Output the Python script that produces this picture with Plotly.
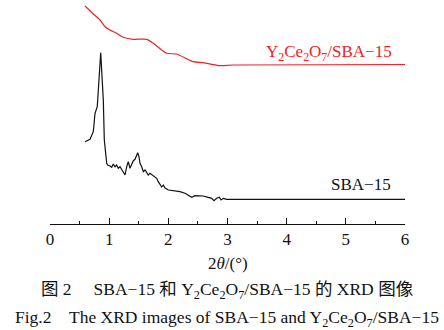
import plotly.graph_objects as go

# SBA-15 (black) : 2theta (deg) and relative intensity
sba_x = [0.592, 0.676, 0.732, 0.761, 0.799, 0.857, 0.901, 0.918, 0.958, 0.975, 1.014, 1.043,
         1.070, 1.099, 1.127, 1.154, 1.183, 1.212, 1.239, 1.268, 1.296, 1.323, 1.352, 1.381,
         1.408, 1.437, 1.465, 1.482, 1.504, 1.521, 1.550, 1.577, 1.606, 1.634, 1.661, 1.690,
         1.746, 1.803, 1.830, 1.859, 1.888, 1.915, 1.944, 2.001, 2.197, 2.282, 2.366, 2.395,
         2.451, 2.591, 2.675, 2.733, 2.772, 2.817, 2.861, 2.890, 2.929, 2.986, 6.0]
sba_y = [82.3, 84.7, 92.3, 110.7, 117.3, 171.3, 124.0, 84.0, 60.7, 59.0, 58.0, 56.7,
         60.0, 57.3, 59.0, 55.7, 57.3, 54.0, 52.3, 49.0, 57.3, 62.3, 55.7, 59.0,
         63.3, 64.7, 69.0, 71.3, 67.3, 60.7, 57.3, 52.3, 54.0, 50.7, 49.0, 50.7,
         48.0, 45.7, 42.3, 40.0, 37.0, 39.0, 36.0, 34.0, 32.3, 30.7, 28.0, 26.7,
         28.3, 28.0, 26.7, 25.7, 23.3, 25.7, 26.7, 24.0, 25.7, 24.7, 24.7]

# Y2Ce2O7/SBA-15 (red)
yce_x = [0.592, 0.732, 0.845, 0.930, 1.014, 1.127, 1.239, 1.408, 1.634, 1.746, 1.972,
         2.141, 2.422, 2.591, 2.873, 3.098, 6.0]
yce_y = [218.0, 210.0, 204.0, 197.3, 194.0, 190.7, 186.7, 184.7, 184.7, 180.7, 170.7,
         170.0, 162.3, 161.3, 158.3, 159.0, 159.5]

x_ticks = [0, 1, 2, 3, 4, 5, 6]
x_labels = ["0", "1", "2", "3", "4", "5", "6"]

label_red = "Y<sub>2</sub>Ce<sub>2</sub>O<sub>7</sub>/SBA\u221215"
label_black = "SBA\u221215"
x_title = "2<i>\u03b8</i>/(\u00b0)"
caption_cn = "图 2\u3000 SBA\u221215 和 Y<sub>2</sub>Ce<sub>2</sub>O<sub>7</sub>/SBA\u221215 的 XRD 图像"
caption_en = "Fig.2\u3000The XRD images of SBA\u221215 and Y<sub>2</sub>Ce<sub>2</sub>O<sub>7</sub>/SBA\u221215"

SERIF = "'Liberation Serif', 'Times New Roman', 'Noto Sans CJK SC', serif"

fig = go.Figure()
fig.add_trace(go.Scatter(x=yce_x, y=yce_y, mode="lines",
                         line=dict(color="#e8242b", width=1.2, shape="spline", smoothing=0.6),
                         showlegend=False, hoverinfo="skip"))
fig.add_trace(go.Scatter(x=sba_x, y=sba_y, mode="lines",
                         line=dict(color="#111111", width=1.2),
                         showlegend=False, hoverinfo="skip"))

W, H = 444, 330
L, R, T, B = 50, 39, 0, 106
ph = H - T - B
pw = W - L - R


def py2paper(py):
    return (H - B - py) / ph


def px2x(px):
    return (px - L) / (pw / 6)


fig.add_annotation(x=5.82, y=171, xref="x", yref="y", text=label_red, showarrow=False,
                   xanchor="right", yanchor="middle",
                   font=dict(family=SERIF, size=17, color="#e8242b"))
fig.add_annotation(x=5.80, y=40, xref="x", yref="y", text=label_black, showarrow=False,
                   xanchor="right", yanchor="middle",
                   font=dict(family=SERIF, size=17, color="#111111"))

fig.add_annotation(x=3, y=py2paper(263), xref="x", yref="paper", text=x_title, showarrow=False,
                   xanchor="center", yanchor="middle",
                   font=dict(family=SERIF, size=17, color="#111111"))
fig.add_annotation(x=px2x(227), y=py2paper(290), xref="x", yref="paper", text=caption_cn, showarrow=False,
                   xanchor="center", yanchor="middle",
                   font=dict(family=SERIF, size=17.5, color="#111111"))
fig.add_annotation(x=px2x(227), y=py2paper(318), xref="x", yref="paper",
                   text=caption_en, showarrow=False,
                   xanchor="center", yanchor="middle",
                   font=dict(family=SERIF, size=17.5, color="#111111"))

fig.update_layout(
    width=W, height=H,
    margin=dict(l=L, r=R, t=T, b=B, pad=0),
    paper_bgcolor="white", plot_bgcolor="white",
    font=dict(family=SERIF, color="#111111"),
    xaxis=dict(range=[0, 6], tickvals=x_ticks, ticktext=x_labels,
               ticks="inside", ticklen=6, tickwidth=1, tickcolor="#111111",
               showline=True, linecolor="#111111", linewidth=1,
               showgrid=False, zeroline=False,
               tickfont=dict(family=SERIF, size=17, color="#111111"),
               minor=dict(dtick=0.5, tick0=0, ticks="inside", ticklen=3, tickcolor="#111111", tickwidth=1)),
    yaxis=dict(range=[0, 224], visible=False, showgrid=False, zeroline=False),
)

fig.write_html("out.html")
